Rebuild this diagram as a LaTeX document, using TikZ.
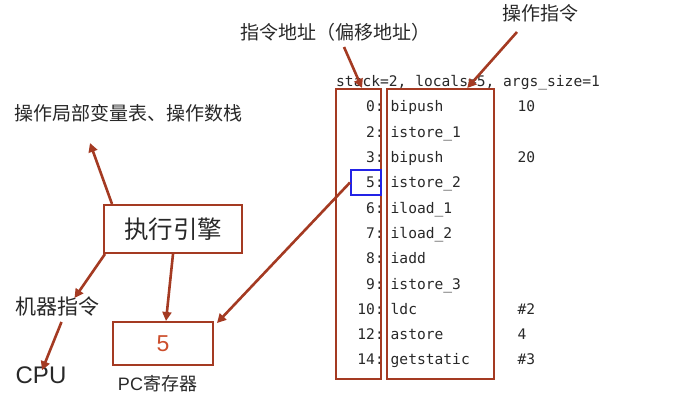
\documentclass[tikz,border=0pt]{standalone}
\usepackage{fontspec}
\setmainfont{Liberation Sans}
\newfontfamily\cjk{Noto Sans CJK SC}
\newfontfamily\mono{DejaVu Sans Mono}
\usetikzlibrary{arrows.meta}

\definecolor{rust}{RGB}{164,58,34}
\definecolor{fivecol}{RGB}{204,78,44}
\definecolor{ink}{RGB}{40,40,40}
\definecolor{markblue}{RGB}{35,35,230}

\tikzset{
  box/.style={draw=rust, line width=2pt, inner sep=0pt},
  arr/.style={draw=rust, line width=2.6pt, -{Triangle[length=9pt,width=9pt]}},
  lbl/.style={text=ink, inner sep=0pt},
  code/.style={text=ink, inner sep=0pt, font=\mono\fontsize{14.6}{16}\selectfont},
}

\begin{document}
\begin{tikzpicture}[x=1pt,y=-1pt]
  \useasboundingbox (0,0) rectangle (674,406);

  % --- bytecode listing ---
  \node[code, anchor=base west] (hdr) at (336,86.5) {stack=2, locals=5, args\_size=1};
  \foreach \n/\ins/\arg [count=\i from 0] in
    {0/bipush/10, 2/istore\_1/, 3/bipush/20, 5/istore\_2/, 6/iload\_1/,
     7/iload\_2/, 8/iadd/, 9/istore\_3/, 10/ldc/\#2, 12/astore/4, 14/getstatic/\#3}
  {
    \pgfmathsetmacro{\yy}{106.7+25.3*\i+5.2}
    \node[code, anchor=base east] (num\i) at (384,\yy) {\n:};
    \node[code, anchor=base west] (ins\i) at (390.5,\yy) {\ins};
    \node[code, anchor=base west] (arg\i) at (517.5,\yy) {\arg};
  }

  % --- listing frames ---
  \node[box, minimum width=45pt, minimum height=289.5pt] (addrbox) at (358.5,233.75) {};
  \node[box, minimum width=106.5pt, minimum height=289.5pt] (opbox) at (440.25,233.75) {};
  \node[draw=markblue, line width=2pt, inner sep=0pt, minimum width=30pt, minimum height=25pt] (cur) at (366,182.5) {};

  % --- annotations above the listing ---
  \node[lbl, font=\cjk\fontsize{19}{21}\selectfont] (addrlbl) at (335,32) {指令地址（偏移地址）};
  \node[lbl, font=\cjk\fontsize{19}{21}\selectfont] (oplbl) at (540,13) {操作指令};
  \coordinate (addrtail) at (344,47);
  \coordinate (optail) at (517,32);
  \draw[arr] (addrtail) -- ([xshift=3.5pt]addrbox.north);
  \draw[arr] (optail) -- ([xshift=27pt]opbox.north);

  % --- execution engine side ---
  \node[lbl, font=\cjk\fontsize{19}{21}\selectfont] (stacklbl) at (128.5,113) {操作局部变量表、操作数栈};
  \node[box, minimum width=138pt, minimum height=48pt, font=\cjk\fontsize{24.5}{26}\selectfont, text=ink] (engine) at (173,229) {执行引擎};
  \node[lbl, font=\cjk\fontsize{21}{23}\selectfont] (mach) at (57.5,307) {机器指令};
  \node[lbl, font=\fontsize{24}{26}\selectfont] (cpu) at (41,375) {CPU};
  \node[box, minimum width=100pt, minimum height=43pt, font=\fontsize{23}{25}\selectfont, text=fivecol] (pc) at (163,343.5) {5};
  \node[lbl, font=\fontsize{18}{20}\selectfont] (pclbl) at (157.5,384) {PC{\cjk 寄存器}};

  \coordinate (stacktip) at (90,143);
  \draw[arr] ([xshift=9pt]engine.north west) -- (stacktip);
  \draw[arr] ([xshift=2pt]engine.south west) -- ([xshift=17pt,yshift=-1pt]mach.north);
  \draw[arr] ([xshift=4pt,yshift=-5pt]mach.south) -- ([xshift=1pt,yshift=-4pt]cpu.north);
  \draw[arr] (engine.south) -- ([xshift=3pt]pc.north);
  \draw[arr] (cur.west) -- ([xshift=3pt,yshift=-2pt]pc.north east);
\end{tikzpicture}
\end{document}
